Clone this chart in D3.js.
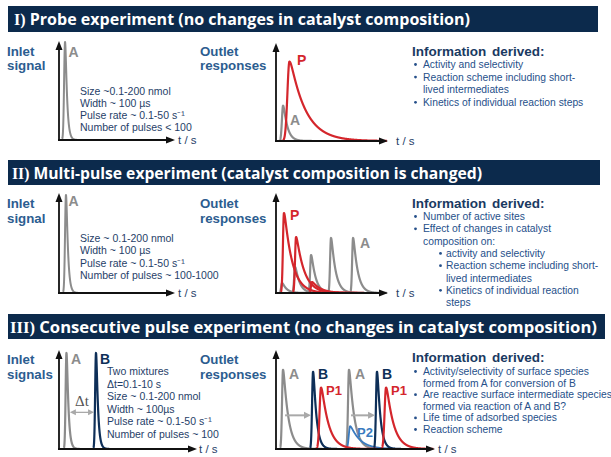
<!DOCTYPE html>
<html><head><meta charset="utf-8">
<script src="https://cdn.jsdelivr.net/npm/d3@7/dist/d3.min.js"></script>
<style>html,body{margin:0;padding:0;background:#fff;overflow:hidden}</style>
</head><body>
<svg id="chart" width="611" height="457"></svg>
<script>
// ---------------- data ----------------
const bannerNumerals = ["I)", "II)", "III)"];
const bannerTitles = [
  " Probe experiment (no changes in catalyst composition)",
  " Multi-pulse experiment (catalyst composition is changed)",
  " Consecutive pulse experiment (no changes in catalyst composition)"
];
const inletLabels = [["Inlet","signal"],["Inlet","signal"],["Inlet","signals"]];
const outletLabel = ["Outlet","responses"];
const axisLabel = "t / s";
const infoTitle = "Information derived:";
const inletNotes1 = ["Size ~0.1-200 nmol","Width ~ 100 µs","Pulse rate ~ 0.1-50 s\u207B\u00B9","Number of pulses < 100"];
const inletNotes2 = ["Size ~ 0.1-200 nmol","Width ~ 100 µs","Pulse rate ~ 0.1-50 s\u207B\u00B9","Number of pulses ~ 100-1000"];
const inletNotes3 = ["Two mixtures","\u0394t=0.1-10 s","Size ~ 0.1-200 nmol","Width ~ 100µs","Pulse rate ~ 0.1-50 s\u207B\u00B9","Number of pulses ~ 100"];
// [level, has bullet, text]
const info1 = [[1,1,"Activity and selectivity"],[1,1,"Reaction scheme including short-"],[1,0,"lived intermediates"],[1,1,"Kinetics of individual reaction steps"]];
const info2 = [[1,1,"Number of active sites"],[1,1,"Effect of changes in catalyst"],[1,0,"composition on:"],[2,1,"activity and selectivity"],[2,1,"Reaction scheme including short-"],[2,0,"lived intermediates"],[2,1,"Kinetics of individual reaction"],[2,0,"steps"]];
const info3 = [[1,1,"Activity/selectivity of surface species"],[1,0,"formed from A for conversion of B"],[1,1,"Are reactive surface intermediate species"],[1,0,"formed via reaction of A and B?"],[1,1,"Life time of adsorbed species"],[1,1,"Reaction scheme"]];

// pulses: [species, peak time (% of axis), peak height (fraction of axis), rise width, decay constant]
const inlet1Pulses  = [["A", 5.2, 0.99, 0.8, 1.4]];
const outlet1Pulses = [["A", 6.3, 0.36, 1.0, 3.4], ["P", 12.0, 0.81, 1.8, 13.5]];
const inlet2Pulses  = [["A", 6.0, 0.98, 0.8, 1.4]];
const outlet2Pulses = [
  ["A", 5.4, 0.10, 0.8, 3.8], ["A", 17.0, 0.26, 0.8, 3.8], ["A", 31.3, 0.38, 0.8, 3.8], ["A", 49.1, 0.55, 0.8, 3.8], ["A", 68.8, 0.55, 0.8, 3.8],
  ["P", 7.1, 0.80, 0.9, 7.0], ["P", 17.9, 0.56, 0.9, 7.0], ["P", 32.1, 0.11, 0.9, 7.5]
];
const inlet3Pulses  = [["A", 5.4, 0.97, 0.6, 1.2], ["B", 26.8, 0.97, 0.6, 1.2]];
const outlet3Pulses = [
  ["A", 4.4, 0.80, 0.6, 3.1], ["A", 45.9, 0.80, 0.6, 3.1],
  ["P2", 46.6, 0.23, 0.8, 6.0],
  ["B", 23.3, 0.78, 0.6, 1.9], ["B", 63.5, 0.78, 0.6, 1.9],
  ["P1", 28.3, 0.62, 0.9, 4.4], ["P1", 69.2, 0.62, 0.9, 4.4]
];
// transfer arrows: [from t, to t, level]
const outlet3Arrows = [[5.7, 22.0, 0.34], [47.2, 62.3, 0.34]];
const inlet3DeltaT = [[7.9, 25.4, 0.37]];

// ---------------- style / layout ----------------
const C = {banner:"#0c2a4c", label:"#2c5d90", title:"#1a3a62", text:"#26508a", note:"#1f3e68",
  A:"#8c8c8c", B:"#0e2f58", P:"#d4262c", P1:"#d4262c", P2:"#3a7bc0", axis:"#111", arrow:"#a9a9a9"};
const svg = d3.select("#chart");
const FONT = "'Liberation Sans', Arial, sans-serif";

// banners
const bannerBoxes = [{y:6,h:26,base:25,x:14,end:470,w:590},{y:160,h:25,base:179,x:12,end:482,w:592},{y:314,h:25,base:333,x:10,end:597,w:597}];
bannerTitles.forEach((t,i)=>{
  const b = bannerBoxes[i];
  svg.append("rect").attr("x",8).attr("y",b.y).attr("width",b.w).attr("height",b.h).attr("fill",C.banner);
  const tx = svg.append("text").attr("x",b.x).attr("y",b.base)
    .attr("font-family","'Open Sans', 'Liberation Sans', sans-serif").attr("font-weight","bold")
    .attr("font-size",16.5).attr("fill","#fff")
    .attr("textLength", b.end-b.x).attr("lengthAdjust","spacingAndGlyphs");
  tx.append("tspan").attr("font-family","'Liberation Serif', 'DejaVu Serif', serif").text(bannerNumerals[i]);
  tx.append("tspan").text(t);
});

function pulse(t, t0, h, r, k){
  const d = t - t0;
  if (d < 0) return h*Math.exp(-0.5*(d/r)*(d/r));
  return h*Math.exp(-(Math.sqrt(d*d + r*r) - r)/k);
}

function arrowHead(g, x, y, dir, len, half, color){
  let pts;
  if (dir==="right") pts=[[x,y],[x-len,y-half],[x-len,y+half]];
  else if (dir==="left") pts=[[x,y],[x+len,y-half],[x+len,y+half]];
  else pts=[[x,y],[x-half,y+len],[x+half,y+len]];
  g.append("polygon").attr("points",pts.map(p=>p.join(",")).join(" ")).attr("fill",color);
}

function drawPanel(L, rows, sw){
  const x = d3.scaleLinear().domain([0,100]).range([L.x0, L.x1]);
  const y = d3.scaleLinear().domain([0,1]).range([L.y0, L.y1]);
  const g = svg.append("g");
  const line = d3.line().x(d=>x(d[0])).y(d=>y(d[1]));
  rows.forEach(([sp,t0,h,r,k])=>{
    const pts = d3.range(Math.max(0.3,t0-4*r), Math.min(99,t0+8*k), 0.05).map(t=>[t,pulse(t,t0,h,r,k)]);
    g.append("path").attr("d",line(pts)).attr("fill","none").attr("stroke",C[sp])
      .attr("stroke-width", sp==="P2"?1.8:sw).attr("stroke-linejoin","round");
  });
  // axes
  g.append("line").attr("x1",x(0)-1).attr("y1",y(0)).attr("x2",x(100)-7).attr("y2",y(0)).attr("stroke",C.axis).attr("stroke-width",1.8);
  arrowHead(g, x(100), y(0), "right", 9, 3.5, C.axis);
  g.append("line").attr("x1",x(0)).attr("y1",y(0)+1).attr("x2",x(0)).attr("y2",y(1)+7).attr("stroke",C.axis).attr("stroke-width",1.8);
  arrowHead(g, x(0), y(1), "up", 9, 3.5, C.axis);
  g.append("text").attr("x",x(100)+L.tg).attr("y",y(0)+4).text(axisLabel)
    .attr("font-family",FONT).attr("font-size",11.5).attr("fill",C.note);
  return {x,y,g};
}

function peakLabel(P, row, txt, dx, dy, size){
  const [sp,t0,h] = row;
  P.g.append("text").attr("x",P.x(t0)+dx).attr("y",P.y(h)+dy).text(txt)
    .attr("font-family",FONT).attr("font-weight","bold").attr("font-size",size||14).attr("fill",C[sp]);
}

function twoLine(x, y1, y2, lines){
  [y1,y2].forEach((yy,i)=>svg.append("text").attr("x",x).attr("y",yy).text(lines[i])
    .attr("font-family",FONT).attr("font-weight","bold").attr("font-size",13.3).attr("fill",C.label));
}

function notes(x, y0, step, lines){
  lines.forEach((t,i)=>svg.append("text").attr("x",x).attr("y",y0+i*step).text(t)
    .attr("font-family",FONT).attr("font-size",10.5).attr("fill",C.note));
}

function info(yTitle, y0, step, items){
  svg.append("text").attr("x",412).attr("y",yTitle).text(infoTitle)
    .attr("font-family",FONT).attr("font-weight","bold").attr("font-size",13.5).attr("fill",C.title)
    .attr("word-spacing",2);
  items.forEach(([lvl,b,t],i)=>{
    const yy = y0+i*step;
    const bx = lvl===1?414:439, tx = lvl===1?423:446;
    if (b) svg.append("circle").attr("cx",bx+1.5).attr("cy",yy-3.5).attr("r",1.4).attr("fill",C.text);
    svg.append("text").attr("x",tx).attr("y",yy).text(t)
      .attr("font-family",FONT).attr("font-size",10.3).attr("fill",C.text);
  });
}

// ---------------- Section I ----------------
twoLine(7, 56, 70, inletLabels[0]);
twoLine(200, 56, 70, outletLabel);
const P_in1 = drawPanel({x0:59,x1:175,y0:140,y1:41,tg:3}, inlet1Pulses, 2);
peakLabel(P_in1, inlet1Pulses[0], "A", 3.5, 15);
notes(80, 95, 12, inletNotes1);
const P_out1 = drawPanel({x0:276,x1:388,y0:141,y1:43,tg:8}, outlet1Pulses, 2.2);
peakLabel(P_out1, outlet1Pulses[1], "P", 7.5, 3);
peakLabel(P_out1, outlet1Pulses[0], "A", 7, 19);
info(56, 68, 12.6, info1);

// ---------------- Section II ----------------
twoLine(7, 208, 223, inletLabels[1]);
twoLine(200, 208, 223, outletLabel);
const P_in2 = drawPanel({x0:59,x1:175,y0:293,y1:193,tg:3}, inlet2Pulses, 2);
peakLabel(P_in2, inlet2Pulses[0], "A", 2.5, 11);
notes(80, 242, 12.4, inletNotes2);
const P_out2 = drawPanel({x0:276,x1:388,y0:293,y1:193,tg:8}, outlet2Pulses, 2.2);
peakLabel(P_out2, outlet2Pulses[5], "P", 6, 7);
peakLabel(P_out2, outlet2Pulses[4], "A", 7, 10);
info(208, 220, 12.3, info2);

// ---------------- Section III ----------------
twoLine(7, 364, 379, inletLabels[2]);
twoLine(200, 364, 379, outletLabel);
const P_in3 = drawPanel({x0:59,x1:197,y0:449,y1:350,tg:2}, inlet3Pulses, 2.2);
peakLabel(P_in3, inlet3Pulses[0], "A", 4.5, 11);
peakLabel(P_in3, inlet3Pulses[1], "B", 4, 11);
inlet3DeltaT.forEach(([a,b,lv])=>{
  const yy = P_in3.y(lv);
  P_in3.g.append("line").attr("x1",P_in3.x(a)+5).attr("x2",P_in3.x(b)-5).attr("y1",yy).attr("y2",yy).attr("stroke",C.arrow).attr("stroke-width",1.3);
  arrowHead(P_in3.g, P_in3.x(a), yy, "left", 6, 3, C.arrow);
  arrowHead(P_in3.g, P_in3.x(b), yy, "right", 6, 3, C.arrow);
  P_in3.g.append("text").attr("x",(P_in3.x(a)+P_in3.x(b))/2).attr("y",yy-6).attr("text-anchor","middle")
    .text("\u0394t").attr("font-family","'Liberation Serif', 'DejaVu Serif', serif").attr("font-size",15).attr("fill","#555");
});
notes(107, 375, 12.6, inletNotes3);
const P_out3 = drawPanel({x0:276,x1:435,y0:449,y1:350,tg:3}, outlet3Pulses, 2.2);
outlet3Arrows.forEach(([a,b,lv])=>{
  const yy = P_out3.y(lv);
  P_out3.g.append("line").attr("x1",P_out3.x(a)).attr("x2",P_out3.x(b)-6).attr("y1",yy).attr("y2",yy).attr("stroke",C.arrow).attr("stroke-width",2);
  arrowHead(P_out3.g, P_out3.x(b), yy, "right", 7, 3.5, C.arrow);
});
peakLabel(P_out3, outlet3Pulses[0], "A", 6, 9);
peakLabel(P_out3, outlet3Pulses[1], "A", 6, 9);
peakLabel(P_out3, outlet3Pulses[3], "B", 5, 7);
peakLabel(P_out3, outlet3Pulses[4], "B", 5, 7);
peakLabel(P_out3, outlet3Pulses[5], "P1", 5, 7, 13);
peakLabel(P_out3, outlet3Pulses[6], "P1", 5, 7, 13);
peakLabel(P_out3, outlet3Pulses[2], "P2", 7, 11, 13);
info(362, 375, 11.6, info3);
</script>
</body></html>
